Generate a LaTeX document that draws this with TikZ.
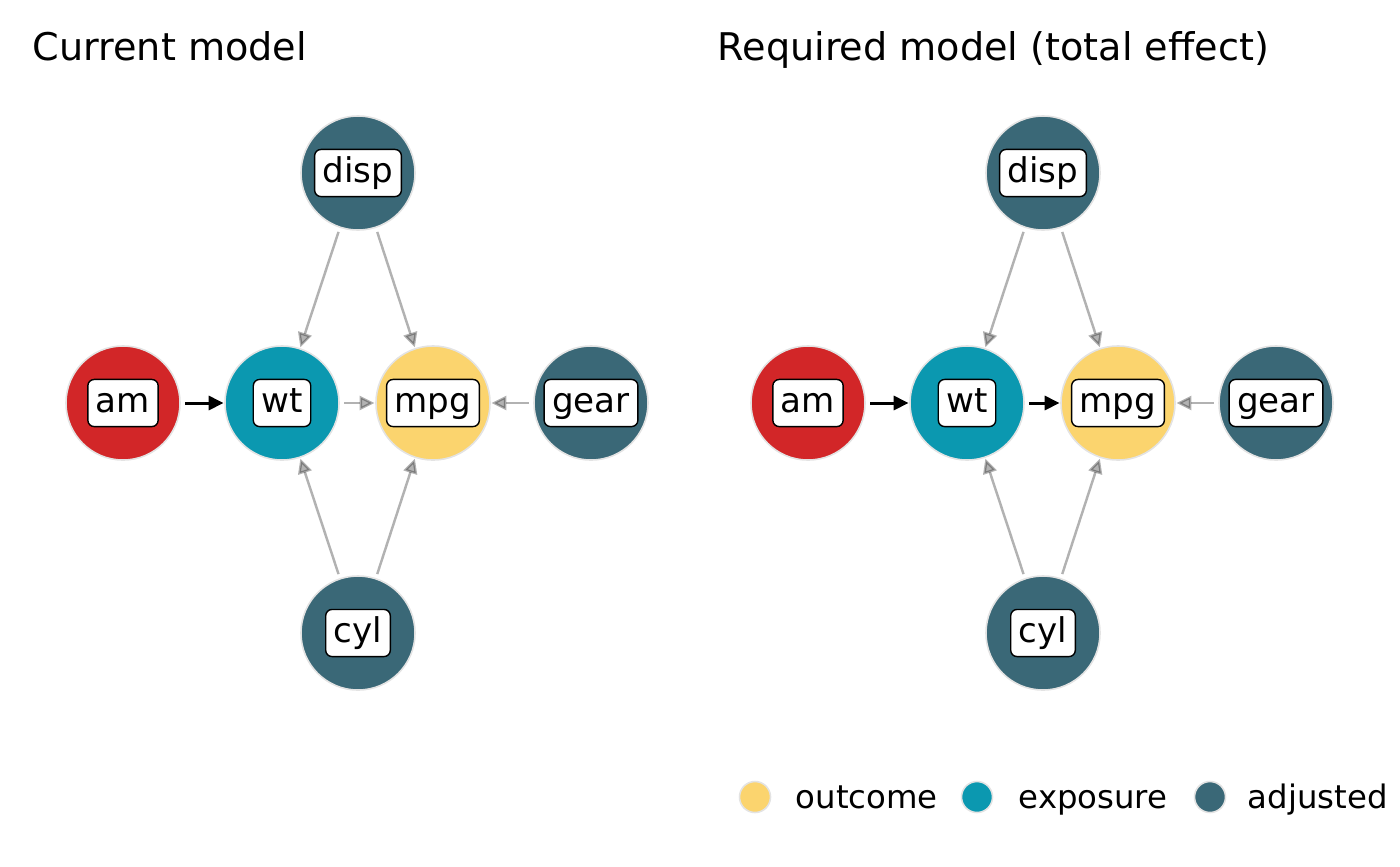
\documentclass[tikz,border=0pt]{standalone}
\usepackage{fontspec}
\setmainfont{DejaVu Sans}
\usetikzlibrary{arrows.meta}
\definecolor{outcomecol}{HTML}{FBD46E}
\definecolor{exposurecol}{HTML}{0B98B0}
\definecolor{adjustedcol}{HTML}{3A6877}
\definecolor{ancestorcol}{HTML}{D22628}
\definecolor{rimcol}{HTML}{E3E3E3}
\begin{document}
\begin{tikzpicture}[x=0.01cm,y=-0.01cm,
	var/.style={circle,minimum size=1.14cm,inner sep=0pt,draw=rimcol,line width=0.45pt},
	tag/.style={draw=black,fill=white,rounded corners=1.8pt,line width=0.4pt,
		font=\fontsize{9.7}{11}\selectfont,inner xsep=2.3pt,inner ysep=1.7pt,
		text height=0.76em,text depth=0.24em},
	weak/.style={draw=black,opacity=0.3,line width=0.7pt,shorten <=1.2pt,shorten >=0.2pt,
		-{Triangle[length=4.2pt,width=4pt]}},
	strong/.style={draw=black,line width=0.85pt,shorten <=1.2pt,shorten >=0.2pt,
		-{Triangle[length=4.2pt,width=4pt]}},
	head/.style={anchor=base west,inner sep=0pt,font=\fontsize{10.85}{12}\selectfont},
	key/.style={circle,minimum size=0.31cm,inner sep=0pt,draw=rimcol,line width=0.45pt},
	keytext/.style={anchor=base west,inner sep=0pt,font=\fontsize{9.2}{11}\selectfont}]
	\useasboundingbox (0,0) rectangle (1400,866);

	% left panel
	\node[head] (titleA) at (32,60) {Current model};
	\node[var,fill=ancestorcol] (amA) at (123,403) {};
	\node[var,fill=exposurecol] (wtA) at (282,403) {};
	\node[var,fill=outcomecol] (mpgA) at (433,403) {};
	\node[var,fill=adjustedcol] (gearA) at (591,403) {};
	\node[var,fill=adjustedcol] (dispA) at (358,173) {};
	\node[var,fill=adjustedcol] (cylA) at (358,633) {};

	\draw[strong] (amA) -- (wtA);
	\draw[weak] (wtA) -- (mpgA);
	\draw[weak] (gearA) -- (mpgA);
	\draw[weak] (dispA) -- (wtA);
	\draw[weak] (dispA) -- (mpgA);
	\draw[weak] (cylA) -- (wtA);
	\draw[weak] (cylA) -- (mpgA);

	\node[tag] at (amA) {am};
	\node[tag] at (wtA) {wt};
	\node[tag] at (mpgA) {mpg};
	\node[tag] at (gearA) {gear};
	\node[tag] at (dispA) {disp};
	\node[tag] at (cylA) {cyl};

	% right panel
	\node[head] (titleB) at (717,60) {Required model (total effect)};
	\node[var,fill=ancestorcol] (amB) at (808,403) {};
	\node[var,fill=exposurecol] (wtB) at (967,403) {};
	\node[var,fill=outcomecol] (mpgB) at (1118,403) {};
	\node[var,fill=adjustedcol] (gearB) at (1276,403) {};
	\node[var,fill=adjustedcol] (dispB) at (1043,173) {};
	\node[var,fill=adjustedcol] (cylB) at (1043,633) {};

	\draw[strong] (amB) -- (wtB);
	\draw[strong] (wtB) -- (mpgB);
	\draw[weak] (gearB) -- (mpgB);
	\draw[weak] (dispB) -- (wtB);
	\draw[weak] (dispB) -- (mpgB);
	\draw[weak] (cylB) -- (wtB);
	\draw[weak] (cylB) -- (mpgB);

	\node[tag] at (amB) {am};
	\node[tag] at (wtB) {wt};
	\node[tag] at (mpgB) {mpg};
	\node[tag] at (gearB) {gear};
	\node[tag] at (dispB) {disp};
	\node[tag] at (cylB) {cyl};

	% legend
	\node[key,fill=outcomecol] (keyO) at (755,797) {};
	\node[keytext] (txtO) at (795,808) {outcome};
	\node[key,fill=exposurecol] (keyE) at (977,797) {};
	\node[keytext] (txtE) at (1018,808) {exposure};
	\node[key,fill=adjustedcol] (keyA) at (1210,797) {};
	\node[keytext] (txtA) at (1247,808) {adjusted};
\end{tikzpicture}
\end{document}
